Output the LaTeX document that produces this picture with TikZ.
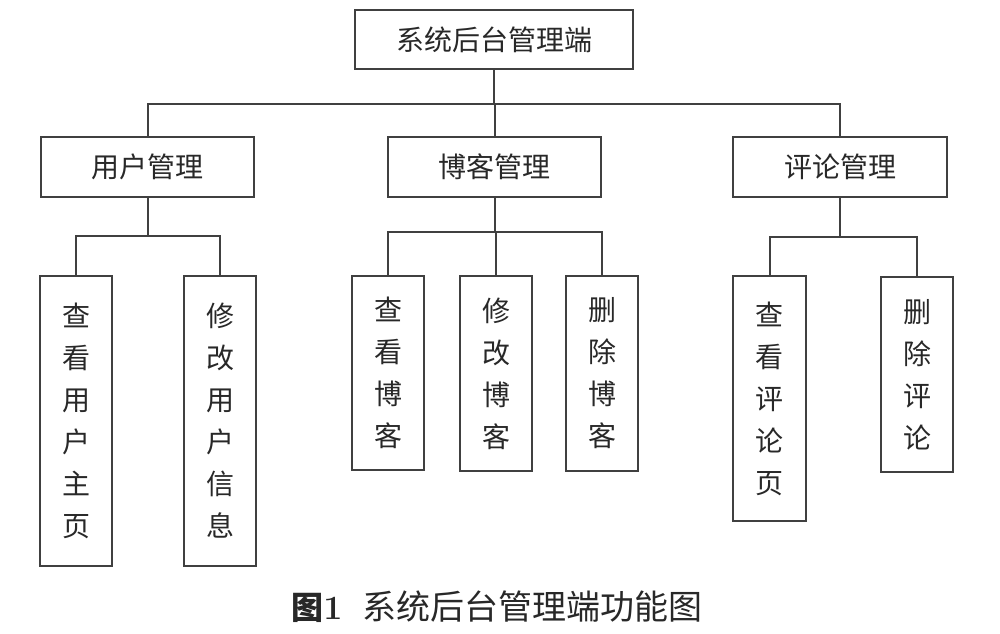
\documentclass[tikz,border=0pt]{standalone}
\usepackage{fontspec}
\newfontfamily\cjk{Noto Sans CJK SC}
\definecolor{c404040}{RGB}{64,64,64}
\definecolor{c333333}{RGB}{40,40,40}

\begin{document}
\begin{tikzpicture}[y=1pt, x=1pt, yscale=-1, inner sep=0pt, outer sep=0pt,
  box/.style={draw=c404040, line width=2pt, text=c333333, align=center,
    font=\cjk\fontsize{28}{42}\selectfont},
  link/.style={draw=c404040, line width=2pt}]
  \useasboundingbox (0,0) rectangle (1000,633);
  % top level
  \node[box, minimum width=278, minimum height=59] (sysadmin) at (494,39.5) {系统后台管理端};
  % second level
  \node[box, minimum width=213, minimum height=60] (usermgr) at (147.5,167) {用户管理};
  \node[box, minimum width=213, minimum height=60] (blogmgr) at (494.5,167) {博客管理};
  \node[box, minimum width=214, minimum height=60] (commentmgr) at (840,167) {评论管理};
  % third level
  \node[box, minimum width=72, minimum height=290] (userhome) at (76,421) {查\\看\\用\\户\\主\\页};
  \node[box, minimum width=72, minimum height=290] (userinfo) at (220,421) {修\\改\\用\\户\\信\\息};
  \node[box, minimum width=72, minimum height=194] (blogview) at (388,373) {查\\看\\博\\客};
  \node[box, minimum width=72, minimum height=195] (blogedit) at (496,373.5) {修\\改\\博\\客};
  \node[box, minimum width=72, minimum height=195] (blogdel) at (602,373.5) {删\\除\\博\\客};
  \node[box, minimum width=73, minimum height=245] (commentview) at (769.5,398.5) {查\\看\\评\\论\\页};
  \node[box, minimum width=72, minimum height=195] (commentdel) at (917,374.5) {删\\除\\评\\论};
  % connectors
  \coordinate (bus0) at (494,104);
  \coordinate (bususer) at (147.5,236);
  \coordinate (busblog) at (494.5,232);
  \coordinate (buscomment) at (840,237);
  \path[link] (sysadmin.south) -- (bus0);
  \path[link] (usermgr.north) |- (bus0) -| (commentmgr.north);
  \path[link] (blogmgr.north) -- (blogmgr.north |- bus0);
  \path[link] (usermgr.south) -- (bususer);
  \path[link] (userhome.north) |- (bususer) -| (userinfo.north);
  \path[link] (blogmgr.south) -- (busblog);
  \path[link] (blogview.north) |- (busblog) -| (blogdel.north);
  \path[link] (blogedit.north) -- (blogedit.north |- busblog);
  \path[link] (commentmgr.south) -- (buscomment);
  \path[link] (commentview.north) |- (buscomment) -| (commentdel.north);
  % caption
  \node[text=c333333] (caption) at (497,607)
    {{\cjk\bfseries\fontsize{32}{32}\selectfont 图}{\bfseries\fontsize{34}{34}\selectfont 1}\hspace{20pt}{\cjk\fontsize{34}{34}\selectfont 系统后台管理端功能图}};
\end{tikzpicture}
\end{document}
